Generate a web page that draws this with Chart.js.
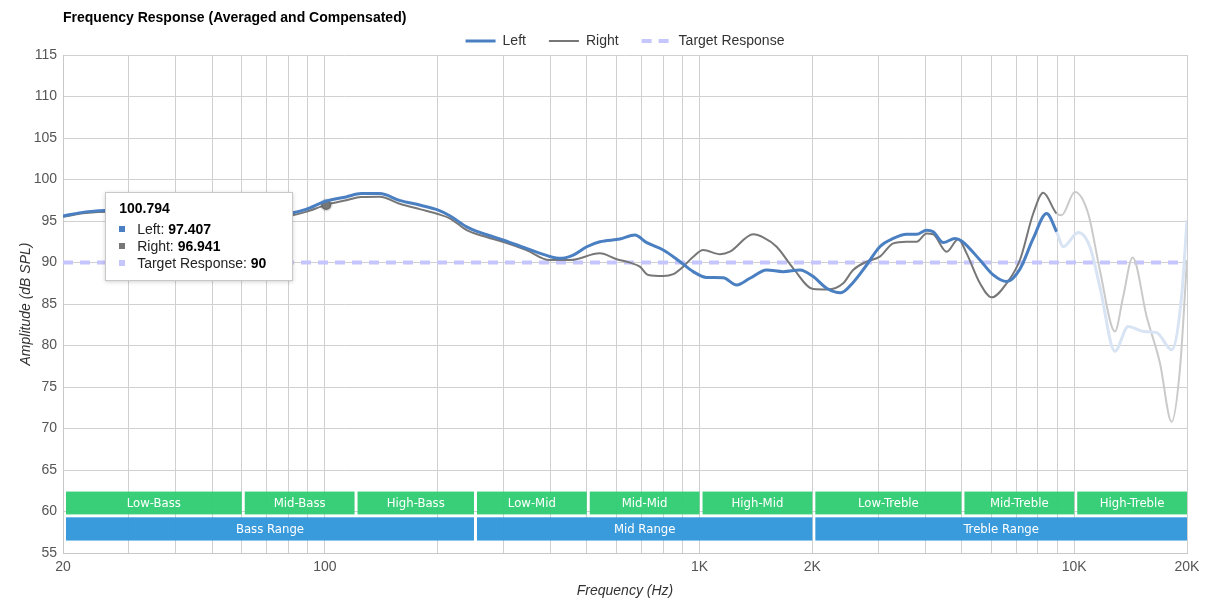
<!DOCTYPE html>
<html>
<head>
<meta charset="utf-8">
<script src="https://cdn.jsdelivr.net/npm/chart.js@4.4.1/dist/chart.umd.min.js"></script>
<style>
  body { margin: 0; background: #fff; }
  #wrap { position: relative; width: 1209px; height: 611px; }
  #tip { position: absolute; display: none; background: #fff; border: 1px solid #c8c8c8;
         box-shadow: 0 1px 4px rgba(0,0,0,0.18); font: 14px "Liberation Sans", Arial, sans-serif;
         color: #222; padding: 7px 26px 8px 13px; white-space: nowrap; pointer-events: none; line-height: 17px; }
  #tip .t { font-weight: bold; color: #000; margin-bottom: 4px; }
  #tip .sq { display: inline-block; width: 6px; height: 6px; margin-right: 12px; vertical-align: middle; position: relative; top: -1px; }
  #tip b { color: #000; }
</style>
</head>
<body>
<div id="wrap"><canvas id="myChart"></canvas><div id="tip"></div></div>
<script>
// datos
const chartTitle = 'Frequency Response (Averaged and Compensated)';

const leftFreq = [20, 23, 27, 35, 45, 55, 65, 75, 81, 89,
  100.794, 114, 125, 140, 159, 180, 200, 216, 239, 264,
  300, 345, 400, 424, 460, 500, 542, 613, 672, 723,
  800, 887, 962, 1044, 1156, 1256, 1363, 1510, 1672, 1854,
  2011, 2184, 2380, 2570, 2792, 3028, 3288, 3570, 3796, 4036,
  4204, 4472, 4806, 5006, 5603, 6078, 6602, 7162, 7774, 8440,
  8974, 9346, 10248, 11010, 11706, 12842, 13934, 15282, 16596, 18198,
  19346, 20000];
const leftDb = [95.6, 96.1, 96.3, 96.2, 96.0, 95.8, 95.7, 95.75, 95.93, 96.4,
  97.407, 97.9, 98.3, 98.3, 97.45, 96.9, 96.33, 95.6, 94.3, 93.5,
  92.7, 91.7, 90.7, 90.5, 90.9, 91.9, 92.5, 92.83, 93.31, 92.39,
  91.51, 90.1, 88.9, 88.2, 88.17, 87.29, 88.1, 89.1, 88.9, 89.1,
  88.3, 86.9, 86.35, 87.6, 89.7, 91.9, 92.9, 93.4, 93.4, 93.9,
  93.7, 92.4, 92.9, 92.6, 90.3, 88.5, 87.7, 89.2, 92.9, 95.9,
  93.7, 91.9, 93.6, 91.9, 87.1, 79.3, 82.3, 81.7, 81.55, 79.5,
  85.9, 95.1];

const rightFreq = [20, 23, 27, 35, 45, 55, 65, 75, 81, 89,
  100.794, 114, 125, 140, 159, 180, 200, 216, 239, 264,
  300, 345, 397, 451, 542, 601, 652, 693, 730, 800,
  851, 904, 962, 1023, 1134, 1205, 1391, 1479, 1606, 1778,
  2011, 2200, 2418, 2570, 2792, 3028, 3288, 3570, 3796, 4036,
  4204, 4566, 4903, 5162, 5603, 6020, 6602, 7162, 7774, 8265,
  8974, 9254, 10042, 10896, 11706, 12842, 13512, 14316, 15606, 16936,
  18198, 19146, 20000];
const rightDb = [95.5, 95.95, 96.1, 96.0, 95.8, 95.5, 95.4, 95.45, 95.64, 96.1,
  96.941, 97.5, 97.9, 97.93, 97.05, 96.4, 95.84, 95.3, 93.9, 93.2,
  92.47, 91.5, 90.3, 90.3, 91.1, 90.39, 89.98, 89.5, 88.5, 88.37,
  88.6, 89.5, 90.7, 91.5, 91.0, 91.3, 93.4, 93.03, 91.9, 89.3,
  86.8, 86.75, 87.5, 89.1, 90.1, 90.7, 92.3, 92.5, 92.5, 93.5,
  93.4, 91.3, 92.8, 91.1, 87.5, 85.8, 87.5, 90.3, 95.9, 98.4,
  95.9, 95.7, 98.5, 95.9, 89.1, 81.7, 85.9, 90.6, 83.5, 77.9,
  70.8, 77.1, 90.3];

const targetFreq = [20, 100.794, 20000];
const targetDb = [90, 90, 90];

// a partir de aqui las curvas se pintan desvanecidas
const fadeFrom = 8974;
const tipFreq = 100.794;

const tickValues = [20, 100, 1000, 2000, 10000, 20000];
const tickLabels = ['20', '100', '1K', '2K', '10K', '20K'];

const bandNames = ['Low-Bass', 'Mid-Bass', 'High-Bass', 'Low-Mid', 'Mid-Mid', 'High-Mid', 'Low-Treble', 'Mid-Treble', 'High-Treble'];
const bandEdges = [20, 60, 120, 250, 500, 1000, 2000, 5000, 10000, 20000];
const rangeNames = ['Bass Range', 'Mid Range', 'Treble Range'];
const rangeEdges = [20, 250, 2000, 20000];

// lineas de la rejilla: 1..9 por decada
const gridFreqs = [];
[10, 100, 1000].forEach(d => { for (let m = 1; m <= 9; m++) if (m * d >= 20) gridFreqs.push(m * d); });
gridFreqs.push(10000, 20000);

Chart.defaults.font.family = '"Liberation Sans", Arial, sans-serif';

const toPoints = (xs, ys) => xs.map((x, i) => ({x: x, y: ys[i]}));

// bandas verdes y azules de abajo
const bands = {
  id: 'bands',
  beforeDatasetsDraw(chart) {
    const {ctx, scales: {x, y}} = chart;
    const rows = [
      {names: bandNames, edges: bandEdges, top: 62.4, bottom: 59.65, color: 'rgba(46,204,113,0.95)'},
      {names: rangeNames, edges: rangeEdges, top: 59.3, bottom: 56.5, color: 'rgba(52,152,219,0.97)'}
    ];
    ctx.save();
    ctx.font = '13px "Liberation Sans Narrow", "DejaVu Sans Condensed", sans-serif';
    ctx.textAlign = 'center';
    ctx.textBaseline = 'middle';
    rows.forEach(r => {
      const y0 = y.getPixelForValue(r.top), y1 = y.getPixelForValue(r.bottom);
      r.names.forEach((name, i) => {
        const x0 = x.getPixelForValue(r.edges[i]) + 3;
        const x1 = x.getPixelForValue(r.edges[i + 1]);
        ctx.fillStyle = r.color;
        ctx.fillRect(x0, y0, x1 - x0, y1 - y0);
        ctx.fillStyle = '#fff';
        ctx.fillText(name, (x0 + x1) / 2, (y0 + y1) / 2 + 1);
      });
    });
    ctx.restore();
  }
};

// titulo alineado con el area y leyenda centrada sobre ella
const layoutTweaks = {
  id: 'layoutTweaks',
  beforeLayout(chart) {
    const lg = chart.legend;
    if (lg && !lg._patched) {
      const fit = lg.fit;
      lg.fit = function () { fit.call(this); this.height = 44; };
      lg._patched = true;
    }
  },
  beforeDraw(chart) {
    chart.legend.left = chart.chartArea.left;
    chart.legend.right = chart.chartArea.right;
  },
  afterDraw(chart) {
    const ctx = chart.ctx;
    ctx.save();
    ctx.font = 'bold 14px "Liberation Sans", Arial, sans-serif';
    ctx.fillStyle = '#000';
    ctx.textBaseline = 'middle';
    ctx.fillText(chartTitle, chart.chartArea.left, 18);
    ctx.restore();
  }
};

function showTip({tooltip}) {
  const tip = document.getElementById('tip');
  if (!tooltip.opacity || !tooltip.dataPoints) { tip.style.display = 'none'; return; }
  const dps = tooltip.dataPoints;
  tip.innerHTML = '<div class="t">' + (+dps[0].parsed.x.toFixed(3)) + '</div>' +
    dps.map(dp => '<div><span class="sq" style="background:' + dp.dataset.borderColor + '"></span>' +
      dp.dataset.label + ': <b>' + dp.parsed.y + '</b></div>').join('');
  tip.style.display = 'block';
  tip.style.left = (tooltip.caretX - 33 - tip.offsetWidth) + 'px';
  tip.style.top = (tooltip.caretY - 31) + 'px';
}

// la leyenda toma el trazo (y el guion) de cada serie
function legendLabels(chart) {
  return Chart.defaults.plugins.legend.labels.generateLabels(chart).map(item => {
    const ds = chart.data.datasets[item.datasetIndex];
    item.strokeStyle = ds.borderColor;
    item.lineWidth = ds.borderWidth;
    item.lineDash = ds.borderDash || [];
    return item;
  });
}

const ctx = document.getElementById('myChart');
const chart = new Chart(ctx, {
  type: 'line',
  data: {
    datasets: [{
      label: 'Left',
      data: toPoints(leftFreq, leftDb),
      borderColor: '#4a7fc1',
      backgroundColor: '#4a7fc1',
      borderWidth: 3,
      pointRadius: 0,
      pointHoverRadius: 0,
      cubicInterpolationMode: 'monotone',
      segment: { borderColor: c => c.p0.parsed.x >= fadeFrom ? '#d8e4f3' : undefined }
    }, {
      label: 'Right',
      data: toPoints(rightFreq, rightDb),
      borderColor: '#777777',
      backgroundColor: '#777777',
      borderWidth: 2,
      pointRadius: 0,
      pointHoverRadius: 5,
      pointHoverBackgroundColor: '#777777',
      pointHoverBorderColor: 'rgba(0,0,0,0.12)',
      pointHoverBorderWidth: 3,
      cubicInterpolationMode: 'monotone',
      segment: { borderColor: c => c.p0.parsed.x >= fadeFrom ? '#cacaca' : undefined }
    }, {
      label: 'Target Response',
      data: toPoints(targetFreq, targetDb),
      borderColor: '#c6c6ff',
      backgroundColor: '#c6c6ff',
      borderWidth: 4,
      borderDash: [10, 7],
      pointRadius: 0,
      pointHoverRadius: 0
    }]
  },
  options: {
    responsive: true,
    maintainAspectRatio: false,
    animation: false,
    events: [],
    layout: { padding: { top: 11, right: 22, left: 0, bottom: 0 } },
    plugins: {
      legend: {
        labels: {
          usePointStyle: true,
          pointStyle: 'line',
          pointStyleWidth: 30,
          padding: 23,
          color: '#333',
          font: { size: 14 },
          generateLabels: legendLabels
        }
      },
      tooltip: { enabled: false, external: showTip }
    },
    scales: {
      x: {
        type: 'logarithmic',
        min: 20,
        max: 20000,
        afterBuildTicks: s => { s.ticks = gridFreqs.map(v => ({value: v})); },
        afterFit: s => { s.height = 58; },
        grid: { color: '#d0d0d0', drawTicks: false },
        border: { color: '#c8c8c8' },
        ticks: {
          autoSkip: false, maxRotation: 0, minRotation: 0, padding: 6,
          color: '#555', font: { size: 14 },
          callback: v => { const i = tickValues.indexOf(v); return i < 0 ? '' : tickLabels[i]; }
        },
        title: { display: true, text: 'Frequency (Hz)', color: '#333', font: { size: 14, style: 'italic' }, padding: { top: 0, bottom: 11 } }
      },
      y: {
        min: 55,
        max: 115,
        afterFit: s => { s.width = 63; },
        grid: { color: '#d0d0d0', drawTicks: false },
        border: { color: '#c8c8c8' },
        ticks: { stepSize: 5, padding: 6, color: '#555', font: { size: 14 } },
        title: { display: true, text: 'Amplitude (dB SPL)', color: '#333', font: { size: 14, style: 'italic' }, padding: { top: 18, bottom: 0 } }
      }
    }
  },
  plugins: [bands, layoutTweaks]
});

// tooltip fijo en 100.794 Hz como en la captura
const active = [
  {datasetIndex: 0, index: leftFreq.indexOf(tipFreq)},
  {datasetIndex: 1, index: rightFreq.indexOf(tipFreq)},
  {datasetIndex: 2, index: targetFreq.indexOf(tipFreq)}
];
chart.setActiveElements(active);
chart.tooltip.setActiveElements(active, {x: 0, y: 0});
chart.update();
</script>
</body>
</html>
